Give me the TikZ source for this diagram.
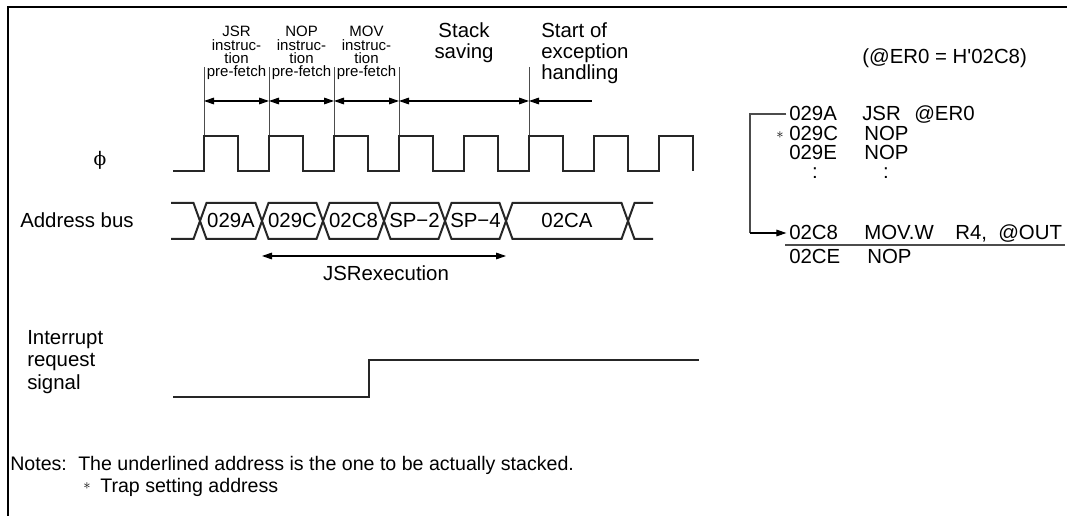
\documentclass[tikz,border=0pt]{standalone}
\usepackage{fontspec}
\setmainfont{Liberation Sans}
\newfontfamily\phifont{DejaVu Serif}
\usetikzlibrary{arrows.meta}
\begin{document}
\begin{tikzpicture}[x=0.75pt,y=-0.75pt,
  txt/.style={inner sep=0pt, font=\fontsize{15.3pt}{18pt}\selectfont},
  note/.style={inner sep=0pt, font=\fontsize{14.7pt}{18pt}\selectfont},
  sm/.style={inner sep=0pt, font=\fontsize{11.25pt}{9.4pt}\selectfont},
  star/.style={inner sep=0pt, font=\fontsize{11pt}{12pt}\selectfont},
  sig/.style={line width=1.5pt, black!85, line join=miter},
  markline/.style={line width=0.6pt, black!70},
  dim/.style={{Triangle[length=7.5pt,width=5pt]}-{Triangle[length=7.5pt,width=5pt]}, line width=0.8pt},
  thin/.style={line width=0.8pt, black!70},
]
\useasboundingbox (0,0) rectangle (1067,516);
% frame
\draw[line width=2pt] (8,516) -- (8,7) -- (1067,7);

% markers
\foreach \n/\x in {m1/204,m2/269,m3/334,m4/399,m5/529}{
  \coordinate (\n t) at (\x,67);
  \coordinate (\n b) at (\x,136);
  \coordinate (\n a) at (\x,101);
  \draw[markline] (\n t) -- (\n b);
}
\coordinate (m6a) at (592,101);
\draw[dim] (m1a) -- (m2a);
\draw[dim] (m2a) -- (m3a);
\draw[dim] (m3a) -- (m4a);
\draw[dim] (m4a) -- (m5a);
\draw[{Triangle[length=7.5pt,width=5pt]}-, line width=0.8pt] (m5a) -- (m6a);

% top labels
\foreach \c/\w in {236.5/JSR,301.5/NOP,366.5/MOV}{
  \node[sm,anchor=base] (l\w1) at (\c,37) {\w};
  \node[sm,anchor=base] (l\w2) at (\c,50.3) {instruc-};
  \node[sm,anchor=base] (l\w3) at (\c,63.6) {tion};
  \node[sm,anchor=base] (l\w4) at (\c,77) {pre-fetch};
}
\node[txt,anchor=base] (ss1) at (464,38) {Stack};
\node[txt,anchor=base] (ss2) at (464,59) {saving};
\node[txt,anchor=base west] (se1) at (541,38) {Start of};
\node[txt,anchor=base west] (se2) at (541,59) {exception};
\node[txt,anchor=base west] (se3) at (541,80) {handling};

% clock
\node[inner sep=0pt,anchor=center,font=\phifont\fontsize{14pt}{16pt}\selectfont] (phi) at (100,160) {ϕ};
\draw[sig] (173,171) \foreach \i in {0,...,7}{
  -- ({204+65*\i},171) -- ({204+65*\i},136) -- ({238+65*\i},136) -- ({238+65*\i},171) };

% address bus
\node[txt,anchor=base west] (ab) at (20,228) {Address bus};
\def\h{6.5}
\draw[sig] (171,203) -- (200-\h,203) -- (200,221) -- (200-\h,239) -- (171,239);
\foreach \a/\b/\t in {200/262/029A,262/323/029C,323/384/02C8,384/445/SP−2,445/506/SP−4,506/628/02CA}{
  \draw[sig] (\a,221) -- (\a+\h,203) -- (\b-\h,203) -- (\b,221) -- (\b-\h,239) -- (\a+\h,239) -- cycle;
  \node[txt,anchor=base] at ({(\a+\b)/2},228) {\t};
}
\draw[sig] (628,221) -- (628+\h,203) -- (653,203);
\draw[sig] (628,221) -- (628+\h,239) -- (653,239);

\coordinate (j1) at (262,256);
\coordinate (j2) at (506,256);
\draw[dim] (j1) -- (j2);
\node[txt,anchor=base] (jsr) at (386,281) {JSRexecution};

% interrupt
\node[txt,anchor=base west] (ir1) at (27,345) {Interrupt};
\node[txt,anchor=base west] (ir2) at (27,367) {request};
\node[txt,anchor=base west] (ir3) at (27,389) {signal};
\draw[sig] (173,397) -- (369,397) -- (369,360) -- (699,360);

% right code listing
\node[txt,anchor=base west] (er) at (862,64) {(@ER0 = H\textquotesingle 02C8)};
\node[txt,anchor=base west] (a1) at (789,121) {029A};
\node[txt,anchor=base west] at (862,121) {JSR};
\node[txt,anchor=base west] at (914,121) {@ER0};
\node[star,anchor=center] (s1) at (780,135) {$\ast$};
\node[txt,anchor=base west] (a2) at (789,141) {029C};
\node[txt,anchor=base west] at (864,141) {NOP};
\node[txt,anchor=base west] (a3) at (789,160) {029E};
\node[txt,anchor=base west] at (864,160) {NOP};
\node[txt,anchor=base] at (815,179) {:};
\node[txt,anchor=base] at (886,179) {:};
\node[txt,anchor=base west] (a4) at (789,240) {02C8};
\node[txt,anchor=base west] at (864,240) {MOV.W};
\node[txt,anchor=base west] at (955,240) {R4,};
\node[txt,anchor=base west] at (998,240) {@OUT};
\node[txt,anchor=base west] (a5) at (789,264) {02CE};
\node[txt,anchor=base west] at (867,264) {NOP};
\draw[thin] (785,245) -- (1065,245);
\coordinate (bk1) at (750,114);
\coordinate (bk2) at (750,233);
\draw[thin] ([xshift=-2pt]a1.west |- bk1) -- (bk1) -- (bk2);
\draw[thin,-{Triangle[length=7.5pt,width=5pt]}, black] (bk2) -- ([xshift=-2pt]a4.west |- bk2);

% notes
\node[note,anchor=base west] (n1) at (10,470) {Notes:};
\node[note,anchor=base west] (n2) at (78,470) {The underlined address is the one to be actually stacked.};
\node[star,anchor=center] (n3) at (87,486) {$\ast$};
\node[note,anchor=base west] (n4) at (100,492) {Trap setting address};
\end{tikzpicture}
\end{document}
